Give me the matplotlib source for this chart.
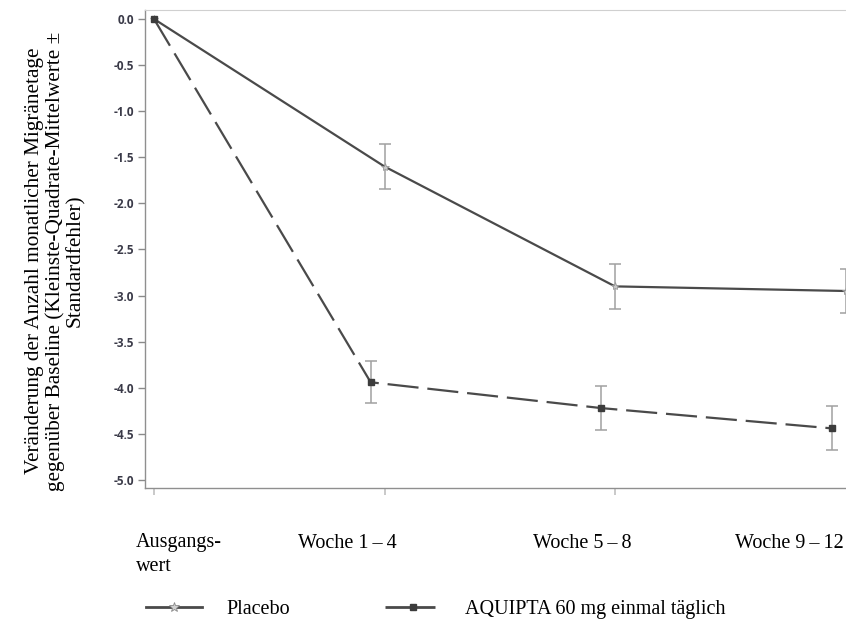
import numpy as np
import matplotlib
matplotlib.use('Agg')
import matplotlib.pyplot as plt
from matplotlib.lines import Line2D

# Data
categories = ['Ausgangs-\nwert', 'Woche 1\u2009\u2013\u20094', 'Woche 5\u2009\u2013\u20098', 'Woche 9\u2009\u2013\u200912']
placebo_mean = [0.0, -1.60, -2.90, -2.95]
placebo_se = [0.0, 0.24, 0.24, 0.24]
aquipta_mean = [0.0, -3.94, -4.22, -4.44]
aquipta_se = [0.0, 0.23, 0.24, 0.24]
yticks = [0.0, -0.5, -1.0, -1.5, -2.0, -2.5, -3.0, -3.5, -4.0, -4.5, -5.0]

W, H = 846, 620
fig = plt.figure(figsize=(W / 100, H / 100), dpi=100)
ax = fig.add_axes([145 / W, 1 - 488 / H, 1 - 145 / W, (488 - 10) / H])

serif = 'Liberation Serif'
line_col = '#4a4a4a'
err_col = '#a0a0a0'

x = np.arange(len(categories), dtype=float)
x_aq = x - np.where(x > 0, 0.06, 0.0)   # small dodge of the second group

ax.errorbar(x[1:], placebo_mean[1:], yerr=placebo_se[1:], fmt='none',
            ecolor=err_col, elinewidth=1.1, capsize=4, capthick=1.1, zorder=2,
            clip_on=False)
ax.errorbar(x_aq[1:], aquipta_mean[1:], yerr=aquipta_se[1:], fmt='none',
            ecolor=err_col, elinewidth=1.1, capsize=4, capthick=1.1, zorder=2,
            clip_on=False)

ax.plot(x, placebo_mean, color=line_col, lw=1.6, marker='*', ms=6,
        mfc='#c8c8c8', mec='#9a9a9a', mew=0.6, zorder=3, clip_on=False)
ax.plot(x_aq, aquipta_mean, color=line_col, lw=1.6, ls=(0, (14, 4)),
        marker='s', ms=4, mfc='#3c3c3c', mec='#3c3c3c', zorder=4, clip_on=False)

ax.set_xlim(-9 / 230.5, (W - 154) / 230.5)
ax.set_ylim(-5 - 8 / 92.2, 9 / 92.2)

ax.set_yticks(yticks)
ax.set_yticklabels([f'{v:.1f}' for v in yticks], fontfamily='Open Sans',
                   fontweight='bold', fontsize=8.5, color='#3a3a48')
ax.tick_params(axis='y', length=5, width=1, color='#8a8a8a', pad=3)
ax.set_xticks(x[:3])
ax.set_xticklabels([])
ax.tick_params(axis='x', length=5, width=1.2, color='#c0c0c0')

for side in ['left', 'bottom']:
    ax.spines[side].set_color('#8f8f8f')
    ax.spines[side].set_linewidth(1)
ax.spines['top'].set_color('#d0d0d0')
ax.spines['right'].set_visible(False)

# category labels under the axis
label_x = [136, 298, 533, 735]
for lx, lab in zip(label_x, categories):
    if '\n' in lab:
        fig.text(lx / W, 1 - 533 / H, lab, ha='left', va='top', family=serif,
                 fontsize=14.5, linespacing=1.35)
    else:
        fig.text(lx / W, 1 - 543 / H, lab, ha='left', va='center', family=serif,
                 fontsize=14.5)

fig.text(55 / W, 1 - 261 / H,
         'Veränderung der Anzahl monatlicher Migränetage\n'
         'gegenüber Baseline (Kleinste-Quadrate-Mittelwerte ±\n'
         'Standardfehler)',
         rotation=90, ha='center', va='center', multialignment='center',
         family=serif, fontsize=15.3, linespacing=1.08)

handles = [
    Line2D([], [], color=line_col, lw=2, marker='*', ms=7, mfc='#d0d0d0',
           mec='#8a8a8a', mew=0.6),
    Line2D([], [], color=line_col, lw=2, ls=(0, (18, 3)), marker='s', ms=5,
           mfc='#3c3c3c', mec='#3c3c3c'),
]
fig.legend(handles, ['Placebo', 'AQUIPTA 60 mg einmal täglich'],
           loc='center left', bbox_to_anchor=(146 / W, 11 / H), ncol=2,
           frameon=False, borderpad=0, borderaxespad=0,
           handlelength=2.8, handletextpad=1.2, columnspacing=4.7,
           prop={'family': serif, 'size': 14.5})

fig.savefig('out.png', dpi=100)
